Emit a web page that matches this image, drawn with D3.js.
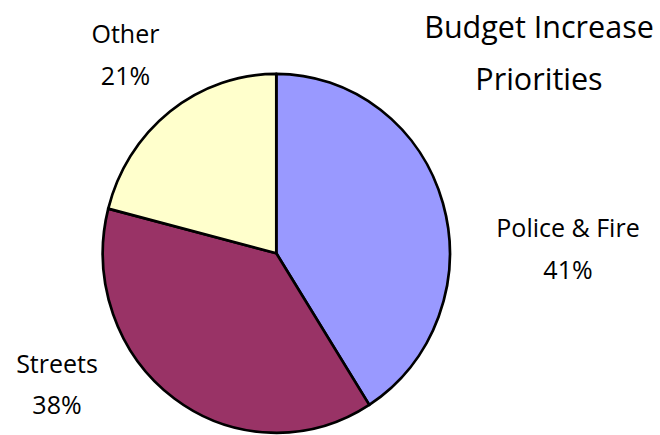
<!DOCTYPE html>
<html>
<head>
<meta charset="utf-8">
<script src="https://cdn.jsdelivr.net/npm/d3@7"></script>
<style>
  html, body { margin: 0; padding: 0; background: #fff; }
  svg { display: block; }
  text { font-family: "Comic Sans MS", "Open Sans", "DejaVu Sans", sans-serif; fill: #000; }
</style>
</head>
<body>
<svg id="chart" width="660" height="435"></svg>
<script>
const categories = ["Police & Fire", "Streets", "Other"];
const values = [41, 38, 21];
const percentLabels = ["41%", "38%", "21%"];
const colors = ["#9999FF", "#993366", "#FFFFCC"];
const titleLines = ["Budget Increase", "Priorities"];

const svg = d3.select("#chart");
const W = 660, H = 435;
svg.append("rect").attr("width", W).attr("height", H).attr("fill", "#fff");

const cx = 276.3, cy = 253.3, rx = 173.5, ry = 179.5;

const pie = d3.pie().sort(null).value(d => d.value).startAngle(0).endAngle(2 * Math.PI);
const data = categories.map((c, i) => ({ name: c, value: values[i], pct: percentLabels[i], color: colors[i] }));
const arcs = pie(data);
const arc = d3.arc().innerRadius(0).outerRadius(rx);

const g = svg.append("g").attr("transform", `translate(${cx},${cy}) scale(1,${ry / rx})`);
g.selectAll("path").data(arcs).join("path")
  .attr("d", arc)
  .attr("fill", d => d.data.color)
  .attr("stroke", "#000")
  .attr("stroke-width", 2.7)
  .attr("stroke-linejoin", "round")
  .attr("vector-effect", "non-scaling-stroke");

// labels
const labelPos = {
  "Police & Fire": { x: 568, y1: 236.5, y2: 278.5 },
  "Streets": { x: 57, y1: 373, y2: 414 },
  "Other": { x: 125.5, y1: 43, y2: 85 }
};
const lg = svg.append("g");
data.forEach(d => {
  const p = labelPos[d.name];
  lg.append("text").attr("x", p.x).attr("y", p.y1).attr("text-anchor", "middle")
    .attr("font-size", 25).text(d.name);
  lg.append("text").attr("x", p.x).attr("y", p.y2).attr("text-anchor", "middle")
    .attr("font-size", 25).text(d.pct);
});

// title
const tg = svg.append("g");
const titleY = [38, 89.5];
titleLines.forEach((t, i) => {
  tg.append("text").attr("x", 539).attr("y", titleY[i]).attr("text-anchor", "middle")
    .attr("font-size", 30.5).text(t);
});
</script>
</body>
</html>
